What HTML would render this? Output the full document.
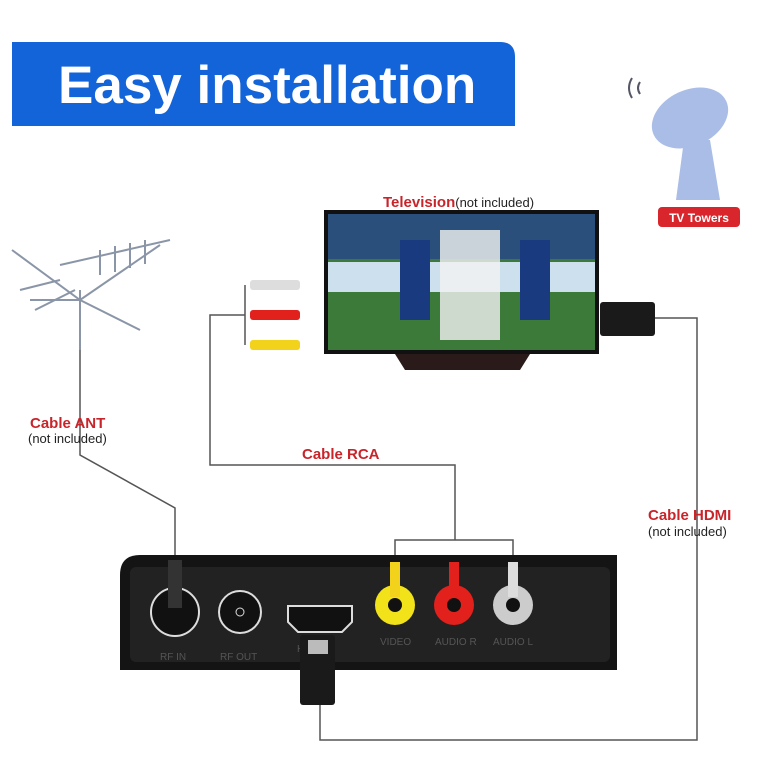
<!DOCTYPE html>
<html><head><style>
body{margin:0;background:#fff}
svg{display:block;font-family:"Liberation Sans",sans-serif}
</style></head><body>
<svg width="775" height="775" viewBox="0 0 775 775">
<rect width="775" height="775" fill="#fff"/>
<path d="M12 42 H500 Q515 42 515 57 V126 H12 Z" fill="#1264d8"/>
<text x="58" y="103" font-size="53" font-weight="bold" fill="#fff">Easy installation</text>
<path d="M640 82 q-4 6 0 12 M632 78 q-6 10 0 20" stroke="#556" stroke-width="2" fill="none"/>
<ellipse cx="690" cy="118" rx="40" ry="28" fill="#a9bde6" transform="rotate(-25 690 118)"/>
<path d="M684 140 L710 140 L720 200 L676 200 Z" fill="#a9bde6"/>
<rect x="658" y="207" width="82" height="20" rx="4" fill="#d9262c"/>
<text x="699" y="222" font-size="12" font-weight="bold" fill="#fff" text-anchor="middle">TV Towers</text>
<text x="383" y="207" font-size="15" font-weight="bold" fill="#c8252b">Television<tspan fill="#222" font-weight="normal" font-size="13">(not included)</tspan></text>
<rect x="324" y="210" width="275" height="144" fill="#111"/>
<rect x="328" y="214" width="267" height="136" fill="#3c7a3a"/>
<rect x="328" y="214" width="267" height="45" fill="#2a4f7a"/>
<rect x="328" y="262" width="267" height="30" fill="#cde0ee"/>
<rect x="440" y="230" width="60" height="110" fill="#f2f2f2" opacity=".8"/>
<rect x="400" y="240" width="30" height="80" fill="#1a3a80"/>
<rect x="520" y="240" width="30" height="80" fill="#1a3a80"/>
<path d="M395 354 H530 L520 370 H405 Z" fill="#2a1a1a"/>
<g stroke="#8a96a8" stroke-width="2" fill="none">
<path d="M12 250 L80 300 L160 245"/><path d="M30 300 L80 300 L140 330"/>
<path d="M60 265 L170 240"/><path d="M80 290 V350"/>
<path d="M20 290 L60 280 M35 310 L75 290 M100 250 V275 M115 246 V272 M130 243 V268 M145 240 V264"/>
</g>
<g stroke="#555" stroke-width="1.5" fill="none">
<path d="M80 350 V455 L175 508 V565"/>
<path d="M245 285 V345 M245 315 H210 V465 H455 V540 M395 565 V540 H513 V565"/>
<path d="M655 318 H697 V740 H320 V705"/>
</g>
<rect x="250" y="280" width="50" height="10" rx="3" fill="#ddd"/>
<rect x="250" y="310" width="50" height="10" rx="3" fill="#e2211c"/>
<rect x="250" y="340" width="50" height="10" rx="3" fill="#f2d21a"/>
<rect x="600" y="302" width="55" height="34" rx="3" fill="#1a1a1a"/>
<text x="30" y="428" font-size="15" font-weight="bold" fill="#c8252b">Cable ANT</text>
<text x="28" y="443" font-size="13" fill="#222">(not included)</text>
<text x="302" y="459" font-size="15" font-weight="bold" fill="#c8252b">Cable RCA</text>
<text x="648" y="520" font-size="15" font-weight="bold" fill="#c8252b">Cable HDMI</text>
<text x="648" y="536" font-size="13" fill="#222">(not included)</text>
<path d="M140 555 H617 V670 H120 V575 Q120 555 140 555 Z" fill="#141414"/>
<rect x="130" y="567" width="480" height="95" rx="6" fill="#222"/>
<circle cx="175" cy="612" r="24" fill="#111" stroke="#ddd" stroke-width="2"/>
<circle cx="240" cy="612" r="21" fill="#111" stroke="#ddd" stroke-width="2"/>
<circle cx="240" cy="612" r="4" fill="none" stroke="#ddd"/>
<rect x="168" y="560" width="14" height="48" fill="#333"/>
<path d="M288 606 H352 V622 L342 632 H298 L288 622 Z" fill="#111" stroke="#ddd" stroke-width="2"/>
<circle cx="395" cy="605" r="20" fill="#f2e21a"/><circle cx="395" cy="605" r="7" fill="#111"/>
<circle cx="454" cy="605" r="20" fill="#e2211c"/><circle cx="454" cy="605" r="7" fill="#111"/>
<circle cx="513" cy="605" r="20" fill="#ccc"/><circle cx="513" cy="605" r="7" fill="#111"/>
<rect x="390" y="562" width="10" height="35" fill="#f2d21a"/>
<rect x="449" y="562" width="10" height="35" fill="#e2211c"/>
<rect x="508" y="562" width="10" height="35" fill="#ddd"/>
<g font-size="10" fill="#555">
<text x="160" y="660">RF IN</text><text x="220" y="660">RF OUT</text><text x="297" y="652">HDMI</text>
<text x="380" y="645">VIDEO</text><text x="435" y="645">AUDIO R</text><text x="493" y="645">AUDIO L</text>
</g>
<rect x="300" y="635" width="35" height="70" rx="3" fill="#1a1a1a"/>
<rect x="308" y="640" width="20" height="14" fill="#bbb"/>
</svg>
</body></html>
